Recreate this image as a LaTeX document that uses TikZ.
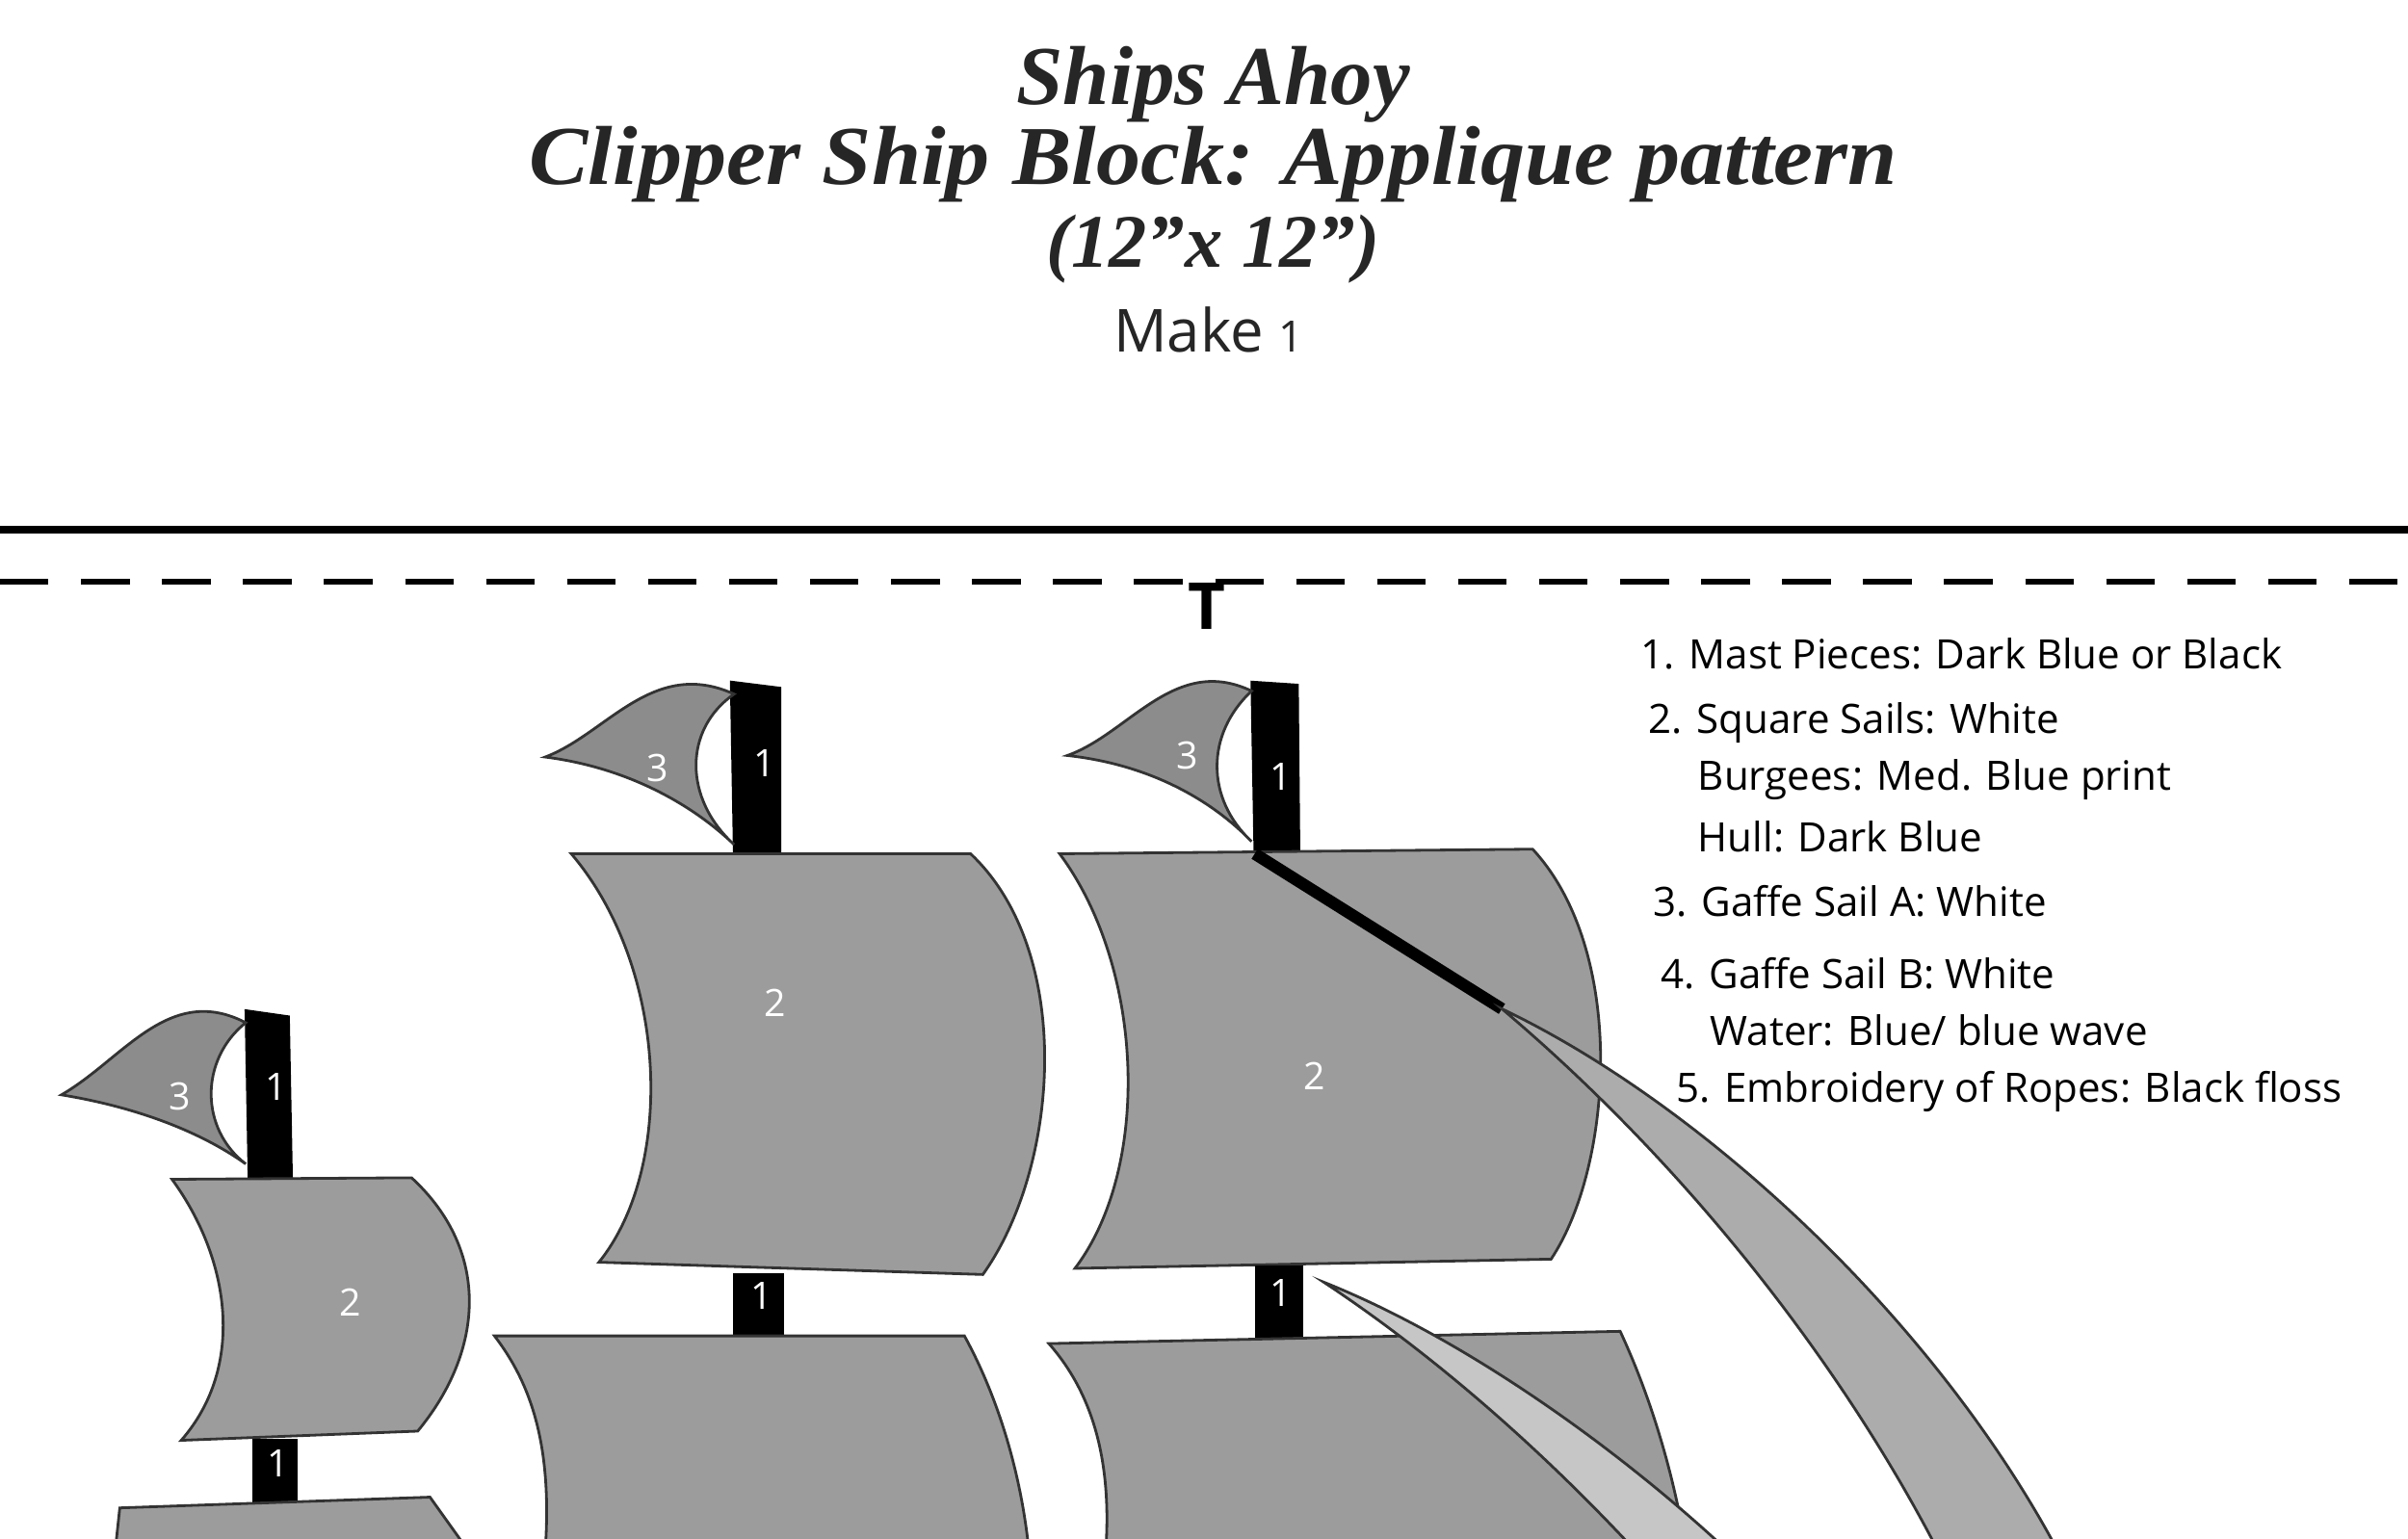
\documentclass[tikz,border=0pt]{standalone}
\usepackage{fontspec}
\setmainfont{Liberation Serif}
\newfontfamily\legfont{Open Sans}
\begin{document}
\begin{tikzpicture}[x=0.01cm,y=-0.01cm,
  sail/.style={fill=gray!78,draw=black!80,line width=0.5pt},
  burgee/.style={fill=gray!90,draw=black!80,line width=0.5pt},
  mast/.style={fill=black,draw=black},
  num/.style={text=white,font=\legfont\fontsize{7}{8}\selectfont},
  leg/.style={anchor=west,inner sep=0pt,font=\legfont\fontsize{7.5}{9}\selectfont},
  ttl/.style={font=\bfseries\itshape\fontsize{15.5}{17}\selectfont,text=black!85,inner sep=0pt}]
\useasboundingbox (0,0) rectangle (1568,1002);
% title
\node[ttl] (t1) at (790,55) {Ships Ahoy};
\node[ttl,xscale=1.06] (t2) at (790,107) {Clipper Ship Block: Applique pattern};
\node[ttl,font=\bfseries\itshape\fontsize{14}{16}\selectfont] (t3) at (790,162) {(12”x 12”)};
\node[font=\legfont\fontsize{11}{13}\selectfont,text=black!85] (t4) at (787,215) {Make {\fontsize{8}{9}\selectfont 1}};
\draw[line width=1.3pt] (0,345) -- (1568,345);
\draw[line width=1.1pt,dash pattern=on 9pt off 6pt] (0,379) -- (1568,379);
\node[font=\legfont\bfseries\fontsize{12}{13}\selectfont] (T) at (786,395) {T};
% legend
\node[leg] (l1) at (1068,426) {1. Mast Pieces: Dark Blue or Black};
\node[leg] (l2) at (1073,471) {2. Square Sails: White};
\node[leg] (l2b) at (1105,508) {Burgees: Med. Blue print};
\node[leg] (l2c) at (1105,545) {Hull: Dark Blue};
\node[leg] (l3) at (1076,587) {3. Gaffe Sail A: White};
\node[leg] (l4) at (1081,634) {4. Gaffe Sail B: White};
\node[leg] (l4b) at (1113,671) {Water: Blue/ blue wave};
\node[leg] (l5) at (1091,711) {5. Embroidery of Ropes: Black floss};
% ---- small ship
\draw[mast] (160,658) -- (188,662) -- (190,768) -- (162,768) -- cycle;
\draw[burgee] (160,666) .. controls (110,640) and (80,690) .. (40,713) .. controls (95,722) and (135,740) .. (160,758) .. controls (130,735) and (130,690) .. (160,666) -- cycle;
\node[num] (s3) at (117,714) {3};
\node[num] (s1a) at (180,708) {1};
\draw[sail] (112,768) -- (268,767) .. controls (320,815) and (315,880) .. (272,932) -- (118,938) .. controls (160,890) and (150,820) .. (112,768) -- cycle;
\node[num] (s2) at (228,848) {2};
\draw[mast] (165,938) rectangle (193,978);
\node[num] (s1b) at (181,953) {1};
\draw[sail] (75,1010) -- (78,982) -- (280,975) -- (305,1010);
% ---- middle ship
\draw[mast] (476,444) -- (508,448) -- (508,556) -- (478,556) -- cycle;
\draw[burgee] (478,452) .. controls (425,428) and (395,478) .. (355,493) .. controls (410,500) and (452,525) .. (478,550) .. controls (445,520) and (445,475) .. (478,452) -- cycle;
\node[num] (m3) at (428,500) {3};
\node[num] (m1a) at (498,497) {1};
\draw[sail] (372,556) -- (632,556) .. controls (700,620) and (690,760) .. (640,830) -- (390,822) .. controls (440,760) and (435,630) .. (372,556) -- cycle;
\node[num] (m2) at (505,653) {2};
\draw[mast] (478,830) rectangle (510,869);
\node[num] (m1b) at (496,844) {1};
\draw[sail] (355,1010) .. controls (360,940) and (345,900) .. (322,870) -- (628,870) .. controls (650,910) and (665,960) .. (670,1010);
% ---- right ship
\draw[mast] (815,444) -- (845,446) -- (846,556) -- (817,556) -- cycle;
\draw[burgee] (815,450) .. controls (765,426) and (735,478) .. (695,492) .. controls (750,498) and (790,522) .. (815,548) .. controls (785,520) and (785,478) .. (815,450) -- cycle;
\node[num] (r3) at (773,492) {3};
\node[num] (r1a) at (834,506) {1};
\draw[sail] (690,556) -- (998,553) .. controls (1060,620) and (1050,760) .. (1010,820) -- (700,826) .. controls (750,760) and (745,630) .. (690,556) -- cycle;
\node[num] (r2) at (856,701) {2};
\draw[line width=2.2pt] (817,556) -- (978,657);
\draw[fill=gray!65,draw=black!80,line width=0.5pt] (978,657) .. controls (1100,760) and (1200,890) .. (1262,1010) -- (1340,1010) .. controls (1260,860) and (1110,720) .. (978,657) -- cycle;
\draw[mast] (818,825) rectangle (848,871);
\node[num] (r1b) at (834,842) {1};
\draw[sail] (720,1010) .. controls (725,940) and (705,900) .. (683,875) -- (1055,867) .. controls (1075,910) and (1090,960) .. (1098,1010);
\draw[fill=gray!45,draw=black!80,line width=0.5pt] (862,835) .. controls (950,870) and (1050,940) .. (1125,1010) -- (1065,1010) .. controls (1000,940) and (930,880) .. (862,835) -- cycle;
\end{tikzpicture}
\end{document}
